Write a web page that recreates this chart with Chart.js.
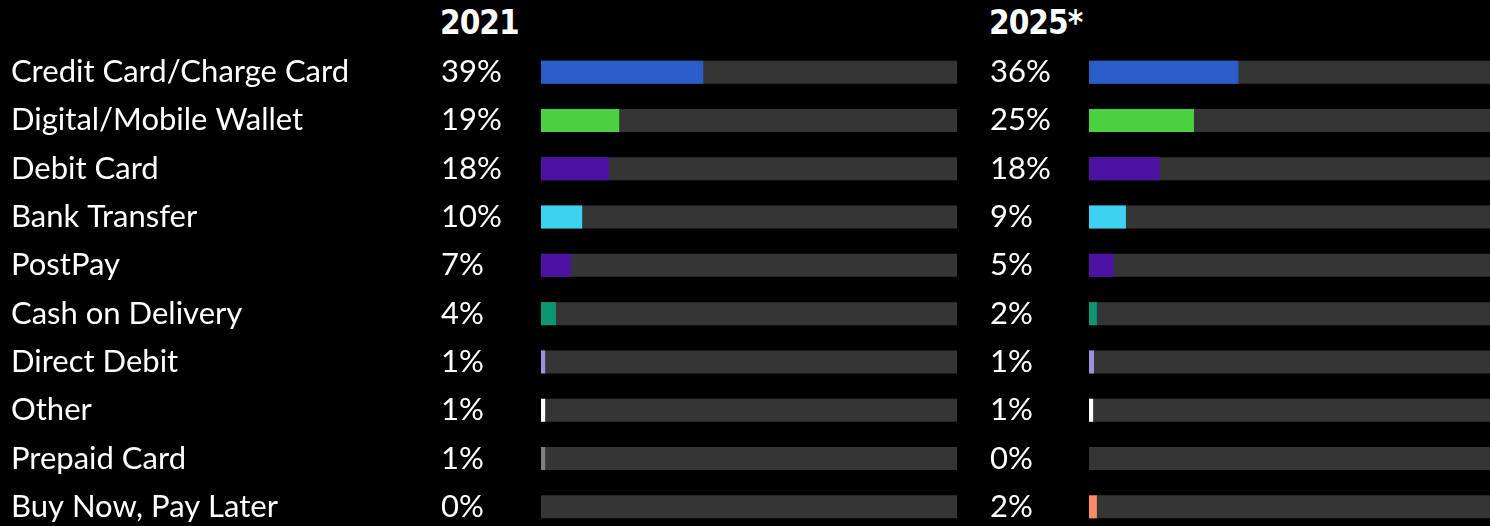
<!DOCTYPE html>
<html>
<head>
<meta charset="utf-8">
<script src="https://cdn.jsdelivr.net/npm/chart.js@4.4.1/dist/chart.umd.min.js"></script>
<style>
  html, body { margin: 0; padding: 0; background: #000; }
  #wrap { position: relative; width: 1490px; height: 526px; overflow: hidden; background: #000; }
  .year { position: absolute; top: 3px; color: #fff; font-family: 'DejaVu Sans Condensed', 'DejaVu Sans', sans-serif; font-stretch: condensed; font-weight: bold; font-size: 33px; letter-spacing: -1px; }
  #c1 { position: absolute; left: 0; top: 0; }
  #c2 { position: absolute; left: 979px; top: 0; }
</style>
</head>
<body>
<div id="wrap">
  <div class="year" style="left:440px">2021</div>
  <div class="year" style="left:989px">2025*</div>
  <canvas id="c1" width="960" height="550"></canvas>
  <canvas id="c2" width="525" height="550"></canvas>
</div>
<script>
const methods = ['Credit Card/Charge Card', 'Digital/Mobile Wallet', 'Debit Card', 'Bank Transfer', 'PostPay',
    'Cash on Delivery', 'Direct Debit', 'Other', 'Prepaid Card', 'Buy Now, Pay Later'];
const share2021 = [39, 18.8, 16.3, 9.9, 7.2, 3.6, 1, 1, 1, 0];
const share2025 = [36, 25.3, 17.1, 8.9, 5.9, 1.9, 1.2, 1, 0, 1.9];
const pct2021 = ['39%', '19%', '18%', '10%', '7%', '4%', '1%', '1%', '1%', '0%'];
const pct2025 = ['36%', '25%', '18%', '9%', '5%', '2%', '1%', '1%', '0%', '2%'];
const track = [100, 100, 100, 100, 100, 100, 100, 100, 100, 100];
const barColors = ['#2a5dc8', '#4bd141', '#4c13a3', '#3cd2f1', '#4c13a3', '#0d9673', '#a08fdb', '#ffffff', '#808080', '#ff8c66'];

const textFont = { family: 'Lato, "Noto Sans", sans-serif', size: 31 };

function panel(canvasId, values, pctLabels, withNames) {
    const scales = {
        x: { display: false, min: 0, max: 100 },
        y: {
            display: withNames, position: 'left', weight: 2, offset: true,
            grid: { display: false }, border: { display: false },
            ticks: { color: '#fff', font: textFont, crossAlign: 'far', autoSkip: false, padding: 0 },
            afterFit: s => { s.width = withNames ? 430 : 0; }
        },
        yPct: {
            type: 'category', labels: pctLabels, position: 'left', weight: 1, offset: true,
            grid: { display: false }, border: { display: false },
            ticks: { color: '#fff', font: textFont, crossAlign: 'far', autoSkip: false, padding: 0 },
            afterFit: s => { s.width = withNames ? 100 : 99; }
        }
    };
    return new Chart(document.getElementById(canvasId), {
        type: 'bar',
        data: {
            labels: methods,
            datasets: [
                { data: values, backgroundColor: barColors, order: 0 },
                { data: track, backgroundColor: '#353535', order: 1 }
            ]
        },
        options: {
            indexAxis: 'y',
            responsive: false,
            animation: false,
            layout: { padding: { left: 11, right: withNames ? 3 : 0, top: 48, bottom: 19 } },
            datasets: { bar: { grouped: false, barPercentage: 0.476, categoryPercentage: 1 } },
            plugins: { legend: { display: false }, tooltip: { enabled: false } },
            scales
        }
    });
}

panel('c1', share2021, pct2021, true);
panel('c2', share2025, pct2025, false);
</script>
</body>
</html>
